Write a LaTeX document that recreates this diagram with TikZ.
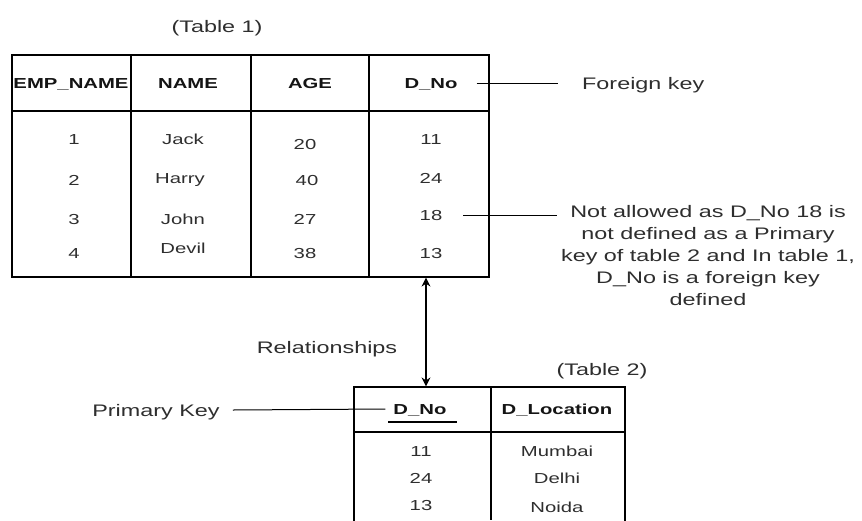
\documentclass[tikz,border=0pt]{standalone}
\usepackage{fontspec}
\setmainfont{Liberation Sans}[FakeStretch=1.4]
\usetikzlibrary{arrows.meta}
\begin{document}
\begin{tikzpicture}[x=1pt,y=-1pt,
  txt/.style={text=black!82, inner sep=0pt},
  big/.style={txt, font=\fontsize{16.7}{22}\selectfont, text height=12pt, text depth=0pt},
  note/.style={txt, font=\fontsize{16.7}{22}\selectfont, align=center},
  cell/.style={txt, font=\fontsize{14.5}{18}\selectfont, text height=10.4pt, text depth=0pt},
  head/.style={cell, font=\fontsize{14.5}{18}\selectfont\bfseries, text=black!92},
  frame/.style={draw, line width=1.2pt, inner sep=0pt},
  grid/.style={line width=1.2pt},
  lead/.style={line width=1pt},
  rel/.style={line width=1.3pt, {Stealth[length=9pt,width=9pt]}-{Stealth[length=9pt,width=9pt]}}
]
\clip (0,0) rectangle (862,520);

% ---------- Table 1 ----------
\node[big] (cap1) at (217,26) {(Table 1)};
\node[frame, minimum width=477pt, minimum height=222pt] (t1) at (250.5,166) {};
\draw[grid] (12,111) -- (489,111);
\draw[grid] (131,55) -- (131,277);
\draw[grid] (251,55) -- (251,277);
\draw[grid] (369,55) -- (369,277);

\node[head] (h1) at (71,83)  {EMP\_NAME};
\node[head] (h2) at (188,83) {NAME};
\node[head] (h3) at (310,83) {AGE};
\node[head] (h4) at (431,83) {D\_No};

\node[cell] (a1) at (74,139) {1};
\node[cell] (a2) at (74,180) {2};
\node[cell] (a3) at (74,219) {3};
\node[cell] (a4) at (74,253) {4};

\node[cell] (b1) at (183,139) {Jack};
\node[cell] (b2) at (180,178) {Harry};
\node[cell] (b3) at (183,219) {John};
\node[cell] (b4) at (183,248) {Devil};

\node[cell] (c1) at (305,144) {20};
\node[cell] (c2) at (307,180) {40};
\node[cell] (c3) at (305,219) {27};
\node[cell] (c4) at (305,253) {38};

\node[cell] (d1) at (431,139) {11};
\node[cell] (d2) at (431,178) {24};
\node[cell] (d3) at (431,215) {18};
\node[cell] (d4) at (431,253) {13};

% ---------- annotations on Table 1 ----------
\node[big, anchor=west] (fk) at (582,83) {Foreign key};
\draw[lead] ([xshift=19pt]h4.east) -- ([xshift=-24pt]fk.west);

\node[note] (why) at (708,256) {Not allowed as D\_No 18 is\\ not defined as a Primary\\ key of table 2 and In table 1,\\ D\_No is a foreign key\\ defined};
\coordinate (whyend) at (557,215);
\draw[lead] ([xshift=21pt]d3.east) -- (whyend);

% ---------- relationship ----------
\node[big] (relname) at (327,347) {Relationships};
\coordinate (relx) at (426,0);

% ---------- Table 2 ----------
\node[big] (cap2) at (602,369) {(Table 2)};
\node[frame, minimum width=271pt, minimum height=160pt] (t2) at (489.5,467) {};
\draw[grid] (354,432) -- (625,432);
\draw[grid] (491,387) -- (491,520);

\node[head] (k1) at (420,409) {D\_No};
\node[head] (k2) at (557,409) {D\_Location};
\draw[line width=2pt] (388,422) -- (457,422);

\node[cell] (e1) at (421,451) {11};
\node[cell] (e2) at (421,478) {24};
\node[cell] (e3) at (421,505) {13};
\node[cell] (f1) at (557,451) {Mumbai};
\node[cell] (f2) at (557,478) {Delhi};
\node[cell] (f3) at (557,507) {Noida};

\node[big] (pk) at (156,410) {Primary Key};
\draw[lead] ([xshift=13pt]pk.east) -- ([xshift=-8pt]k1.west);

\draw[rel] (t1.south -| relx) -- (t2.north -| relx);
\end{tikzpicture}
\end{document}
